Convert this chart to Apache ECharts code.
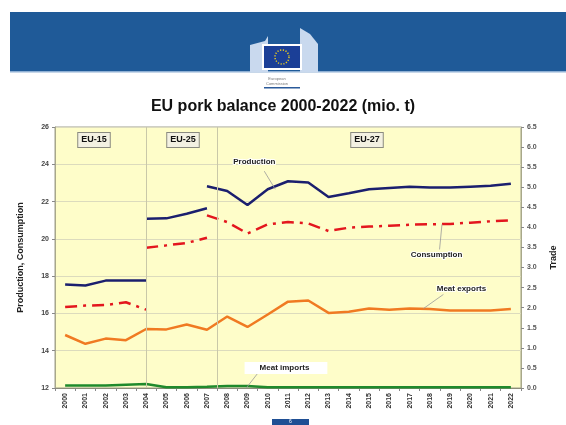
<!DOCTYPE html>
<html>
<head>
<meta charset="utf-8">
<script src="https://cdn.jsdelivr.net/npm/echarts@6/dist/echarts.min.js"></script>
<style>html,body{margin:0;padding:0;background:#fff}#c{width:566px;height:425px}</style>
</head>
<body>
<div id="c"></div>
<script>
const years = ['2000','2001','2002','2003','2004','2005','2006','2007','2008','2009','2010','2011','2012','2013','2014','2015','2016','2017','2018','2019','2020','2021','2022'];
const leftTicks = {min: 12, max: 26, interval: 2};
const rightTicks = {min: 0, max: 6.5, interval: 0.5};
const N = null;
const prodEU15 = [17.55,17.5,17.76,17.76,17.76,N,N,N,N,N,N,N,N,N,N,N,N,N,N,N,N,N,N];
const prodEU25 = [N,N,N,N,21.08,21.1,21.35,21.64,N,N,N,N,N,N,N,N,N,N,N,N,N,N,N];
const prodEU27 = [N,N,N,N,N,N,N,22.82,22.57,21.82,22.66,23.09,23.02,22.25,22.45,22.66,22.73,22.8,22.75,22.75,22.8,22.85,22.96];
const consEU15 = [16.35,16.42,16.45,16.6,16.2,N,N,N,N,N,N,N,N,N,N,N,N,N,N,N,N,N,N];
const consEU25 = [N,N,N,N,19.52,19.65,19.78,20.06,N,N,N,N,N,N,N,N,N,N,N,N,N,N,N];
const consEU27 = [N,N,N,N,N,N,N,21.26,20.9,20.29,20.78,20.9,20.83,20.42,20.6,20.66,20.7,20.76,20.78,20.8,20.87,20.94,21.0];
const meatExports = [1.32,1.1,1.23,1.19,1.47,1.46,1.58,1.45,1.78,1.52,1.83,2.15,2.18,1.87,1.9,1.98,1.95,1.98,1.97,1.93,1.93,1.93,1.97];
const meatImports = [0.06,0.06,0.06,0.08,0.1,0.02,0.02,0.03,0.05,0.05,0.02,0.02,0.02,0.02,0.02,0.02,0.02,0.02,0.02,0.02,0.02,0.02,0.02];
const periodLabels = ['EU-15','EU-25','EU-27'];

const chart = echarts.init(document.getElementById('c'), null, {renderer: 'canvas'});
const FONT = '"Liberation Sans", Arial, sans-serif';
const cProd = '#1b1f6e', cCons = '#e3161e', cExp = '#f07a22', cImp = '#1f8a2c';
const annStyle = {fontFamily: FONT, fontSize: 8, fontWeight: 'bold', color: '#222',
  textBorderColor: 'rgba(255,255,255,0.9)', textBorderWidth: 2};
const leader = {color: '#999', width: 0.8, type: 'solid'};

function prodLine(data) {
  return {type: 'line', yAxisIndex: 0, data, symbol: 'none', silent: true,
    lineStyle: {color: cProd, width: 2.5}, itemStyle: {color: cProd}};
}
function consLine(data) {
  return {type: 'line', yAxisIndex: 0, data, symbol: 'none', silent: true,
    lineStyle: {color: cCons, width: 2.5, type: [12, 6, 3, 6]}, itemStyle: {color: cCons}};
}

const banner = [
  {type: 'rect', shape: {x: 10, y: 12, width: 556, height: 60}, style: {fill: '#1f5a98'}, z: 1},
  {type: 'rect', shape: {x: 10, y: 71, width: 556, height: 1.5}, style: {fill: '#8fb0d4'}, z: 2},
  {type: 'polygon', shape: {points: [[250,45],[265,41],[268,36],[268,72],[250,72]]}, style: {fill: '#c9d9ee'}, z: 2},
  {type: 'polygon', shape: {points: [[300,28],[310,34],[318,44],[318,72],[300,72]]}, style: {fill: '#c9d9ee'}, z: 2},
  {type: 'rect', shape: {x: 262, y: 44, width: 40, height: 26}, style: {fill: '#ffffff'}, z: 3},
  {type: 'rect', shape: {x: 264, y: 46, width: 36, height: 22}, style: {fill: '#1b3f97'}, z: 4},
  {type: 'circle', shape: {cx: 282, cy: 57, r: 7}, style: {fill: 'none', stroke: '#f3d21b', lineWidth: 1.4, lineDash: [1.2, 1.6]}, z: 5},
  {type: 'text', style: {x: 277, y: 76, text: 'European\nCommission', fontSize: 4, lineHeight: 5, fill: '#777', fontFamily: FONT, align: 'center'}, z: 5},
  {type: 'rect', shape: {x: 264, y: 87, width: 36, height: 1.5}, style: {fill: '#2b5a9a'}, z: 5},
  {type: 'rect', shape: {x: 272, y: 419, width: 37, height: 6}, style: {fill: '#1f4f94'}, z: 5},
  {type: 'text', style: {x: 290.5, y: 419, text: '6', fontSize: 5, fill: '#fff', fontFamily: FONT, align: 'center'}, z: 6}
];
const boxPos = [[94, 140], [183, 140], [367, 140]];
const boxes = periodLabels.map((t, i) => ({
  type: 'text', z: 20,
  style: {x: boxPos[i][0], y: boxPos[i][1], text: t, align: 'center', verticalAlign: 'middle',
    fontFamily: FONT, fontSize: 9, fontWeight: 'bold', fill: '#111',
    backgroundColor: '#f3f1e2', borderColor: '#8a8a80', borderWidth: 1, padding: [3, 3, 2, 3]}
}));

function annSeries(yIdx, points, lines, z) {
  return {type: 'line', xAxisIndex: 1, yAxisIndex: yIdx, data: [], symbol: 'none', silent: true, z: z || 3,
    markPoint: {symbol: 'circle', symbolSize: 0, silent: true,
      label: Object.assign({show: true, formatter: p => p.name}, annStyle), data: points},
    markLine: {silent: true, symbol: ['none', 'none'], label: {show: false}, lineStyle: leader, data: lines}};
}

chart.setOption({
  animation: false,
  backgroundColor: '#ffffff',
  title: {text: 'EU pork balance 2000-2022 (mio. t)', left: 'center', top: 94,
    textStyle: {fontFamily: FONT, fontSize: 16, fontWeight: 'bold', color: '#111'}},
  grid: {left: 55, right: 43, top: 127, bottom: 37, show: true, backgroundColor: '#fefdc9', borderColor: '#9e9e8c', borderWidth: 1},
  graphic: banner.concat(boxes),
  xAxis: [
    {type: 'category', data: years, boundaryGap: true,
      axisLine: {onZero: false, lineStyle: {color: '#8c8c7a'}},
      axisTick: {show: true, interval: 0, alignWithLabel: false, length: 3, lineStyle: {color: '#888'}},
      axisLabel: {rotate: 90, interval: 0, fontFamily: FONT, fontSize: 7, fontWeight: 'bold', color: '#333', margin: 5}},
    {type: 'value', min: -0.5, max: years.length - 0.5, show: false, splitLine: {show: false}}
  ],
  yAxis: [
    {type: 'value', min: leftTicks.min, max: leftTicks.max, interval: leftTicks.interval,
      name: 'Production, Consumption', nameLocation: 'middle', nameGap: 30, nameRotate: 90,
      nameTextStyle: {fontFamily: FONT, fontSize: 9, fontWeight: 'bold', color: '#222'},
      axisLine: {show: true, onZero: false, lineStyle: {color: '#a8a88a'}},
      axisTick: {show: true, length: 3, lineStyle: {color: '#888'}},
      axisLabel: {fontFamily: FONT, fontSize: 7, fontWeight: 'bold', color: '#444', margin: 6},
      splitLine: {show: true, lineStyle: {color: '#dcdbbd', width: 1}}},
    {type: 'value', position: 'right', min: rightTicks.min, max: rightTicks.max, interval: rightTicks.interval,
      name: 'Trade', nameLocation: 'middle', nameGap: 28, nameRotate: 90,
      nameTextStyle: {fontFamily: FONT, fontSize: 9, fontWeight: 'bold', color: '#222'},
      axisLine: {show: true, onZero: false, lineStyle: {color: '#a8a88a'}},
      axisTick: {show: true, length: 3, lineStyle: {color: '#888'}},
      axisLabel: {fontFamily: FONT, fontSize: 7, fontWeight: 'bold', color: '#555', margin: 6, formatter: v => v.toFixed(1)},
      splitLine: {show: false}}
  ],
  series: [
    {type: 'line', xAxisIndex: 1, yAxisIndex: 0, data: [], symbol: 'none', silent: true, z: 1,
      markLine: {silent: true, symbol: ['none', 'none'], label: {show: false},
        lineStyle: {color: '#c9c8a8', width: 1, type: 'solid'},
        data: [[{coord: [4, 12]}, {coord: [4, 26]}], [{coord: [7.5, 12]}, {coord: [7.5, 26]}]]}},
    prodLine(prodEU15),
    prodLine(prodEU25),
    prodLine(prodEU27),
    consLine(consEU15),
    consLine(consEU25),
    consLine(consEU27),
    {type: 'line', yAxisIndex: 1, data: meatExports, symbol: 'none', silent: true,
      lineStyle: {color: cExp, width: 2.5}, itemStyle: {color: cExp}},
    {type: 'line', yAxisIndex: 1, data: meatImports, symbol: 'none', silent: true,
      lineStyle: {color: cImp, width: 2.5}, itemStyle: {color: cImp}},
    annSeries(0,
      [{name: 'Production', coord: [9.34, 24.12]}, {name: 'Consumption', coord: [18.33, 19.16]}],
      [[{coord: [9.83, 23.63]}, {coord: [10.37, 22.66]}], [{coord: [18.48, 19.43]}, {coord: [18.6, 20.78]}]]),
    annSeries(1,
      [{name: 'Meat exports', coord: [19.56, 2.48]},
       {name: 'Meat imports', coord: [10.9, 0.5],
        label: Object.assign({}, annStyle, {show: true, formatter: p => p.name, backgroundColor: '#ffffff', padding: [2, 18, 2, 15], textBorderWidth: 0})}],
      [[{coord: [18.67, 2.33]}, {coord: [17.69, 1.98]}], [{coord: [9.48, 0.35]}, {coord: [8.94, 0.0]}]])
  ]
});
</script>
</body>
</html>
